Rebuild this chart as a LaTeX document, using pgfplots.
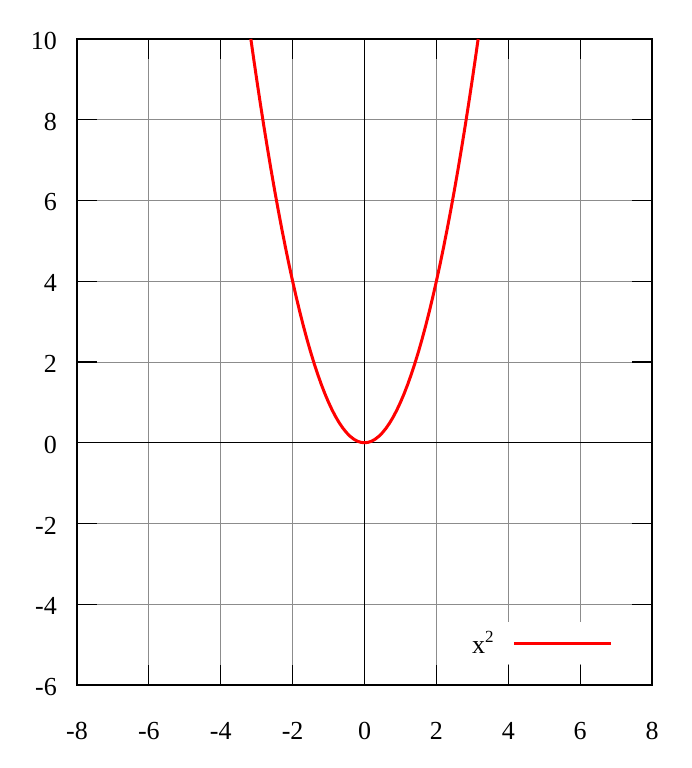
\documentclass[border=0pt]{standalone}
\usepackage{pgfplots}
\pgfplotsset{compat=1.18}
\usepackage{fontspec}
\setmainfont{Liberation Serif}
\begin{document}
\begin{tikzpicture}[x=1pt,y=1pt]
\useasboundingbox (-77,-83) rectangle (614,685);
\begin{axis}[
  at={(0pt,0pt)}, anchor=south west,
  scale only axis, width=575pt, height=646pt,
  xmin=-8, xmax=8, ymin=-6, ymax=10,
  xtick={-8,-6,-4,-2,0,2,4,6,8},
  xticklabels={-8,-6,-4,-2,0,2,4,6,8},
  ytick={-6,-4,-2,0,2,4,6,8,10},
  yticklabels={-6,-4,-2,0,2,4,6,8,10},
  tick align=inside,
  major tick length=20pt,
  tick style={black, line width=1.2pt},
  grid=major,
  grid style={black!45, line width=0.9pt},
  axis line style={black, line width=2pt},
  tick label style={font=\fontsize{26}{30}\selectfont, inner sep=0pt},
  xticklabel style={yshift=-37pt},
  yticklabel style={xshift=-20pt, yshift=-2pt},
  extra x ticks={0}, extra x tick labels={},
  extra x tick style={grid style={black, line width=1.4pt}, major tick length=0pt},
  extra y ticks={0}, extra y tick labels={},
  extra y tick style={grid style={black, line width=1.4pt}, major tick length=0pt},
  legend plot pos=right,
  legend image code/.code={\draw[#1] (0pt,0pt) -- (97pt,0pt);},
  legend style={draw=none, fill=white, inner xsep=10pt, inner ysep=9pt,
    font=\fontsize{26}{30}\selectfont, column sep=19pt,
    nodes={inner sep=0pt},
    at={(axis cs:7.19,-4.96)}, anchor=east},
]
\addplot[red, line width=3pt] coordinates {
(-3.1623,10) (-3.1,9.61) (-3.0,9) (-2.9,8.41) (-2.8,7.84) (-2.7,7.29) (-2.6,6.76)
(-2.5,6.25) (-2.4,5.76) (-2.3,5.29) (-2.2,4.84) (-2.1,4.41) (-2.0,4) (-1.9,3.61)
(-1.8,3.24) (-1.7,2.89) (-1.6,2.56) (-1.5,2.25) (-1.4,1.96) (-1.3,1.69) (-1.2,1.44)
(-1.1,1.21) (-1.0,1) (-0.9,0.81) (-0.8,0.64) (-0.7,0.49) (-0.6,0.36) (-0.5,0.25)
(-0.4,0.16) (-0.3,0.09) (-0.2,0.04) (-0.1,0.01) (0,0)
(0.1,0.01) (0.2,0.04) (0.3,0.09) (0.4,0.16) (0.5,0.25) (0.6,0.36) (0.7,0.49)
(0.8,0.64) (0.9,0.81) (1.0,1) (1.1,1.21) (1.2,1.44) (1.3,1.69) (1.4,1.96)
(1.5,2.25) (1.6,2.56) (1.7,2.89) (1.8,3.24) (1.9,3.61) (2.0,4) (2.1,4.41)
(2.2,4.84) (2.3,5.29) (2.4,5.76) (2.5,6.25) (2.6,6.76) (2.7,7.29) (2.8,7.84)
(2.9,8.41) (3.0,9) (3.1,9.61) (3.1623,10)
};
\addlegendentry{x\raisebox{0.42em}{\fontsize{17}{17}\selectfont 2}}
\end{axis}
\end{tikzpicture}
\end{document}
